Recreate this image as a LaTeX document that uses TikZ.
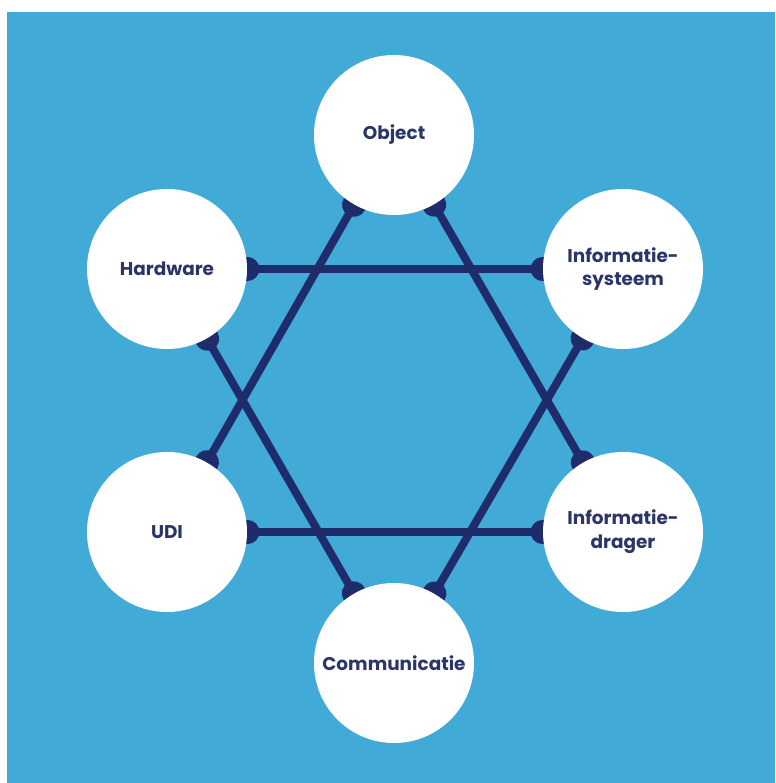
\documentclass[tikz,border=0pt]{standalone}
\usepackage{fontspec}
\setmainfont{Poppins}
\usetikzlibrary{arrows.meta}

\definecolor{skyblue}{HTML}{42AAD7}
\definecolor{navy}{HTML}{1F2C6C}
\definecolor{labelnavy}{HTML}{2B3568}

\pgfdeclarelayer{bg}
\pgfdeclarelayer{links}
\pgfsetlayers{bg,links,main}

\tikzset{
	item/.style={circle, fill=white, minimum size=160*0.02cm, inner sep=0pt,
		align=center, text=labelnavy, font=\bfseries\fontsize{10.5}{13.5}\selectfont},
	link/.style={draw=navy, line width=8*0.02cm,
		{Circle[length=24*0.02cm,width=24*0.02cm]}-{Circle[length=24*0.02cm,width=24*0.02cm]},
		shorten <=-12*0.02cm, shorten >=-12*0.02cm}
}

\begin{document}
\begin{tikzpicture}[x=0.02cm,y=-0.02cm]
	\useasboundingbox (0,0) rectangle (775,783);
	\begin{pgfonlayer}{bg}
		\fill[skyblue] (7,12) rectangle (775,783);
	\end{pgfonlayer}

	% the six parts
	\node[item] (obj) at (394,135) {Object};
	\node[item] (hw) at (167,269) {Hardware};
	\node[item] (infsys) at (623,269) {Informatie-\\systeem};
	\node[item] (udi) at (167,532) {UDI};
	\node[item] (infdr) at (623,532) {Informatie-\\drager};
	\node[item] (comm) at (394,663) {Communicatie};

	% links
	\begin{pgfonlayer}{links}
		\draw[link] (hw) -- (infsys);
		\draw[link] (udi) -- (infdr);
		\draw[link] (obj) -- (udi);
		\draw[link] (obj) -- (infdr);
		\draw[link] (hw) -- (comm);
		\draw[link] (infsys) -- (comm);
	\end{pgfonlayer}
\end{tikzpicture}
\end{document}
